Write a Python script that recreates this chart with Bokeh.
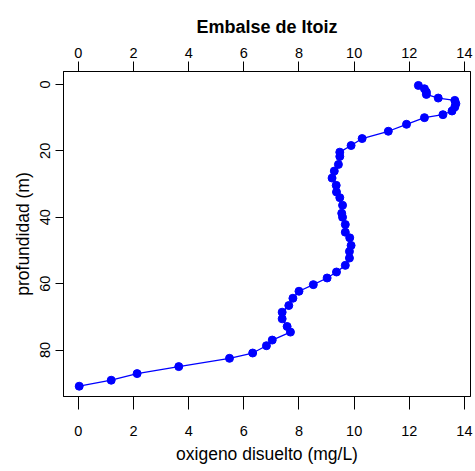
from bokeh.plotting import figure
from bokeh.models import Range1d, LinearAxis, FixedTicker
from bokeh.embed import file_html
from bokeh.resources import INLINE

depth = [0.3, 1.3, 2.3, 3.0, 4.1, 4.8, 5.8, 6.8, 8.0, 9.1, 10.0, 12.0, 14.1, 16.3,
         18.4, 20.4, 21.7, 24.1, 26.1, 28.2, 30.4, 32.4, 34.1, 36.4, 38.8, 40.0,
         42.2, 44.5, 46.2, 48.5, 50.3, 52.3, 54.5, 56.5, 58.3, 60.3, 62.3, 64.4,
         66.6, 68.6, 70.6, 72.9, 74.6, 77.0, 78.7, 80.9, 82.5, 85.0, 87.1, 89.1, 90.9]
oxygen = [12.33, 12.55, 12.62, 12.62, 13.05, 13.65, 13.69, 13.65, 13.55, 13.22, 12.55,
          11.90, 11.24, 10.29, 9.89, 9.48, 9.48, 9.43, 9.28, 9.20, 9.35, 9.36, 9.48,
          9.58, 9.55, 9.58, 9.68, 9.68, 9.84, 9.89, 9.83, 9.83, 9.68, 9.36, 9.02, 8.52,
          8.00, 7.78, 7.63, 7.39, 7.39, 7.57, 7.69, 7.03, 6.82, 6.32, 5.48, 3.64, 2.13,
          1.19, 0.03]
x_ticks = [0, 2, 4, 6, 8, 10, 12, 14]
y_ticks = [0, 20, 40, 60, 80]

title = "Embalse de Itoiz"
xlabel = "oxigeno disuelto (mg/L)"
ylabel = "profundidad (m)"

FONT = "Liberation Sans"

p = figure(width=475, height=471, output_backend="svg", toolbar_location=None,
           x_range=Range1d(-0.54, 14.22), y_range=Range1d(94.0, -3.9),
           x_axis_location=None, y_axis_location=None,
           min_border_left=63, min_border_right=5, min_border_top=71, min_border_bottom=75)
p.xgrid.visible = False
p.ygrid.visible = False
p.outline_line_color = "black"
p.outline_line_width = 1
p.background_fill_color = "white"
p.border_fill_color = "white"

def style(ax, ticks):
    ax.ticker = FixedTicker(ticks=ticks)
    ax.minor_tick_line_color = None
    ax.major_tick_in = 0
    ax.axis_line_color = "black"
    ax.major_tick_line_color = "black"
    ax.major_label_text_font = FONT
    ax.major_label_text_font_size = "14.5px"
    ax.major_label_text_color = "black"
    ax.axis_label_text_font = FONT
    ax.axis_label_text_font_style = "normal"
    ax.axis_label_text_color = "black"

bottom = LinearAxis(axis_label=xlabel)
style(bottom, x_ticks)
bottom.major_tick_out = 13
bottom.major_label_standoff = 16
bottom.axis_label_text_font_size = "17.5px"
bottom.axis_label_standoff = 5
p.add_layout(bottom, "below")

top = LinearAxis(axis_label=title)
style(top, x_ticks)
top.major_tick_out = 10
top.major_label_standoff = 4
top.axis_label_text_font_size = "18px"
top.axis_label_text_font_style = "bold"
top.axis_label_standoff = 8
p.add_layout(top, "above")

left = LinearAxis(axis_label=ylabel)
style(left, y_ticks)
left.major_tick_out = 8
left.major_label_standoff = 5
left.major_label_orientation = "vertical"
left.axis_label_text_font_size = "17.5px"
left.axis_label_standoff = 5
p.add_layout(left, "left")

p.line(oxygen, depth, line_color="#0000FF", line_width=1.3)
p.scatter(oxygen, depth, size=8, fill_color="#0000FF", line_color="#0000FF")

open("out.html", "w").write(file_html(p, INLINE))
